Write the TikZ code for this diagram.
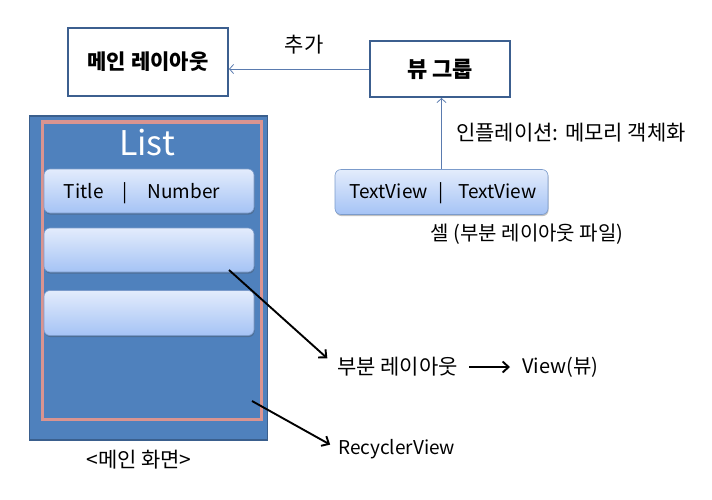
\documentclass[tikz,border=0pt]{standalone}
\usepackage{fontspec}
\setmainfont{Noto Sans CJK KR}
\usetikzlibrary{arrows.meta,shadows}
\definecolor{boxline}{HTML}{3C5F8F}
\definecolor{listblue}{HTML}{4F81BD}
\definecolor{listedge}{HTML}{3A5F8D}
\definecolor{pinkline}{HTML}{DA9490}
\definecolor{celltop}{HTML}{E3ECFC}
\definecolor{cellbot}{HTML}{A5C3F5}
\definecolor{celledge}{HTML}{7B9BCB}
\definecolor{thinarrow}{HTML}{5A7BAF}
\begin{document}
\begin{tikzpicture}[x=1pt,y=-1pt,
  font=\fontsize{21}{24}\selectfont,
  latin/.style={font=\fontsize{19}{22}\selectfont},
  titlebox/.style={draw=boxline, line width=2pt, fill=white, inner sep=0pt, font=\fontsize{21}{24}\selectfont\bfseries},
  cellbox/.style={draw=celledge, line width=0.6pt, rounded corners=6pt, top color=celltop, bottom color=cellbot, inner sep=0pt,
     drop shadow={shadow xshift=0.6pt, shadow yshift=-1.6pt, opacity=0.35, fill=black!70}},
  lbl/.style={inner sep=0pt, text=black},
  thin arrow/.style={draw=thinarrow, line width=0.8pt, -{Straight Barb[length=4pt,width=9pt]}},
  black arrow/.style={draw=black, line width=1.9pt, -{Straight Barb[length=6pt,width=11pt]}}]
\useasboundingbox (0,0) rectangle (712,499);

% top boxes
\node[titlebox, minimum width=160pt, minimum height=68pt] (ml) at (148,62) {메인 레이아웃};
\node[titlebox, minimum width=140pt, minimum height=56pt, font=\fontsize{22}{24}\selectfont\bfseries] (vg) at (440,69) {뷰 그룹};
\draw[thin arrow] (vg.west) -- (ml.east |- vg.west);
\node[lbl] (add) at (304,45) {추가};

% cell (TextView)
\node[cellbox, minimum width=213pt, minimum height=45pt] (tv) at (441.5,192) {};
\node[lbl, latin] (tvt) at (443,193) {TextView\hspace{11pt}|\hspace{14pt}TextView};
\draw[thin arrow] (tv.north) -- (tv.north |- vg.south);
\node[lbl] (infl) at (571,133) {인플레이션: 메모리 객체화};
\node[lbl, font=\fontsize{20}{23}\selectfont] (cell) at (527,234) {셀 (부분 레이아웃 파일)};

% main screen
\node[draw=listedge, line width=1.5pt, fill=listblue, minimum width=238pt, minimum height=324pt, inner sep=0pt] (screen) at (148.5,278) {};
\node[draw=pinkline, line width=3.5pt, minimum width=219pt, minimum height=297.5pt, inner sep=0pt] (rv) at (152,270.75) {};
\node[text=white, inner sep=0pt, font=\fontsize{34}{36}\selectfont] (list) at (147,143) {List};
\node[cellbox, minimum width=210pt, minimum height=44pt] (row1) at (149,191) {};
\node[lbl, latin] (row1t) at (142,193) {Title\hspace{19pt}|\hspace{20pt}Number};
\node[cellbox, minimum width=210pt, minimum height=44pt] (row2) at (149,250) {};
\node[cellbox, minimum width=210pt, minimum height=45pt] (row3) at (149,313) {};
\node[lbl] (mainscr) at (139,460) {<메인 화면>};

% right labels
\node[lbl, anchor=west] (pl) at (337,367) {부분 레이아웃};
\node[lbl, anchor=west, font=\fontsize{20}{23}\selectfont] (view) at (522,367) {View(뷰)};
\node[lbl, anchor=west, latin] (rvl) at (338,449) {RecyclerView};

\coordinate (a1) at (229,270);
\coordinate (a2) at (252,401);
\draw[black arrow, shorten >=13pt] (a1) -- (pl.west);
\draw[black arrow, shorten <=11pt, shorten >=12pt] (pl.east) -- (view.west);
\draw[black arrow, shorten >=9pt] (a2) -- (rvl.west);
\end{tikzpicture}
\end{document}
